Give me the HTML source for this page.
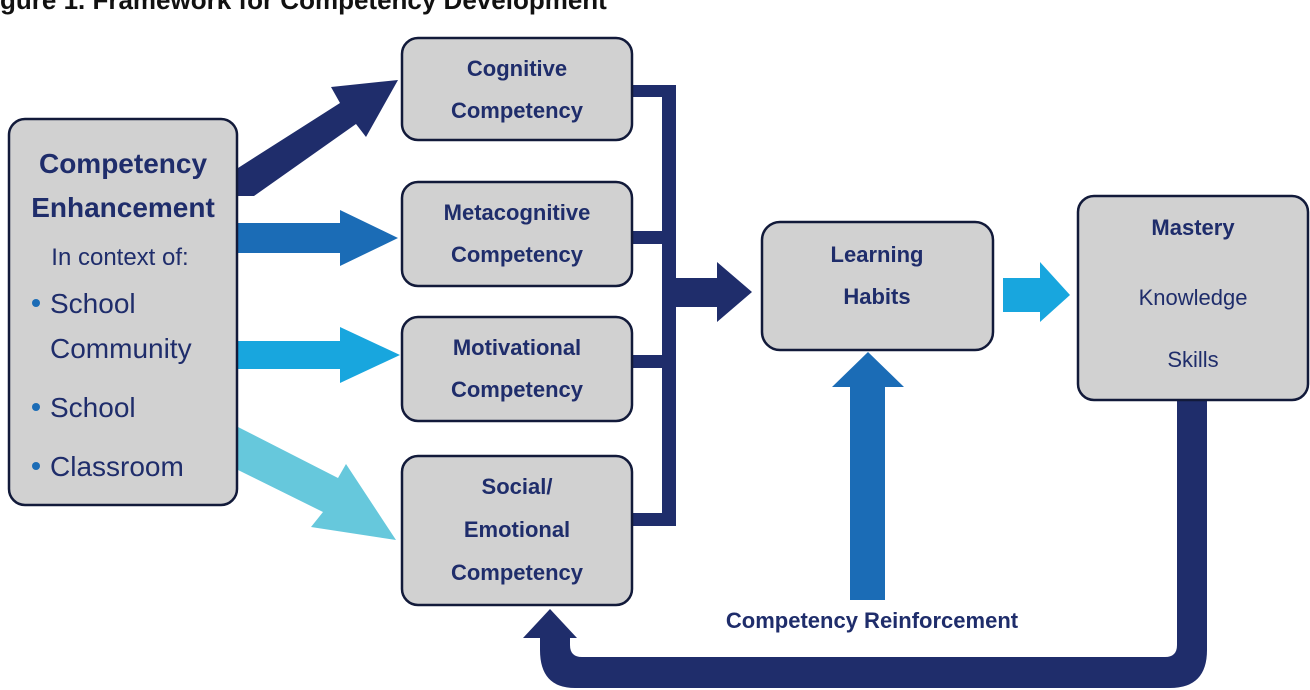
<!DOCTYPE html>
<html><head><meta charset="utf-8"><style>
html,body{margin:0;padding:0;background:#fff;}
svg{display:block;}
text{font-family:"Liberation Sans",sans-serif;fill:#1f2d6b;}
.b{font-weight:bold;}
</style></head><body>
<svg width="1310" height="690" viewBox="0 0 1310 690" xmlns="http://www.w3.org/2000/svg">
<!-- cut-off title -->
<text x="0" y="9" font-size="26" class="b" style="fill:#111">gure 1. Framework for Competency Development</text>
<!-- bracket -->
<g fill="#1f2d6b">
<rect x="662" y="85" width="14" height="441"/>
<rect x="630" y="85" width="46" height="12"/>
<rect x="630" y="231" width="46" height="13"/>
<rect x="630" y="355" width="46" height="13"/>
<rect x="630" y="513" width="46" height="13"/>
<polygon points="676,278 717,278 717,262 752,292 717,322 717,307 676,307"/>
<!-- return loop -->
<path d="M1177,400 H1207 V650 Q1207,688 1170,688 H575 Q540,688 540,650 V637 H570 V645 Q570,657 582,657 H1165 Q1177,657 1177,645 Z"/>
<polygon points="523,638 550,609 577,638"/>
<!-- diagonal dark arrow -->
<polygon points="238,168 340,103 331,87 398,80 366,137 356,124 254,196 238,196"/>
</g>
<polygon fill="#1b6cb6" points="238,223 340,223 340,210 398,238 340,266 340,253 238,253"/>
<polygon fill="#18a6de" points="238,341 340,341 340,327 400,355 340,383 340,369 238,369"/>
<polygon fill="#66c8dc" points="238,427 338,478 346,464 396,540 311,527 323,512 238,470"/>
<polygon fill="#1b6cb6" points="850,600 885,600 885,387 904,387 868,352 832,387 850,387"/>
<polygon fill="#18a6de" points="1003,278 1040,278 1040,262 1070,295 1040,322 1040,312 1003,312"/>
<!-- boxes -->
<g fill="#d1d1d1" stroke="#121a3a" stroke-width="2.5">
<rect x="9" y="119" width="228" height="386" rx="16"/>
<rect x="402" y="38" width="230" height="102" rx="16"/>
<rect x="402" y="182" width="230" height="104" rx="16"/>
<rect x="402" y="317" width="230" height="104" rx="16"/>
<rect x="402" y="456" width="230" height="149" rx="16"/>
<rect x="762" y="222" width="231" height="128" rx="18"/>
<rect x="1078" y="196" width="230" height="204" rx="16"/>
</g>
<g text-anchor="middle">
<text x="123" y="173" font-size="28" class="b">Competency</text>
<text x="123" y="217" font-size="28" class="b">Enhancement</text>
<text x="120" y="265" font-size="24">In context of:</text>
<text x="517" y="76" font-size="22" class="b">Cognitive</text>
<text x="517" y="118" font-size="22" class="b">Competency</text>
<text x="517" y="220" font-size="22" class="b">Metacognitive</text>
<text x="517" y="262" font-size="22" class="b">Competency</text>
<text x="517" y="355" font-size="22" class="b">Motivational</text>
<text x="517" y="397" font-size="22" class="b">Competency</text>
<text x="517" y="494" font-size="22" class="b">Social/</text>
<text x="517" y="537" font-size="22" class="b">Emotional</text>
<text x="517" y="580" font-size="22" class="b">Competency</text>
<text x="877" y="262" font-size="22" class="b">Learning</text>
<text x="877" y="304" font-size="22" class="b">Habits</text>
<text x="1193" y="235" font-size="22" class="b">Mastery</text>
<text x="1193" y="305" font-size="22">Knowledge</text>
<text x="1193" y="367" font-size="22">Skills</text>
<text x="872" y="628" font-size="22" class="b">Competency Reinforcement</text>
</g>
<g font-size="28">
<circle cx="36" cy="303" r="4" fill="#1b6cb6"/>
<text x="50" y="313">School</text>
<text x="50" y="358">Community</text>
<circle cx="36" cy="407" r="4" fill="#1b6cb6"/>
<text x="50" y="417">School</text>
<circle cx="36" cy="466" r="4" fill="#1b6cb6"/>
<text x="50" y="476">Classroom</text>
</g>
</svg>
</body></html>
